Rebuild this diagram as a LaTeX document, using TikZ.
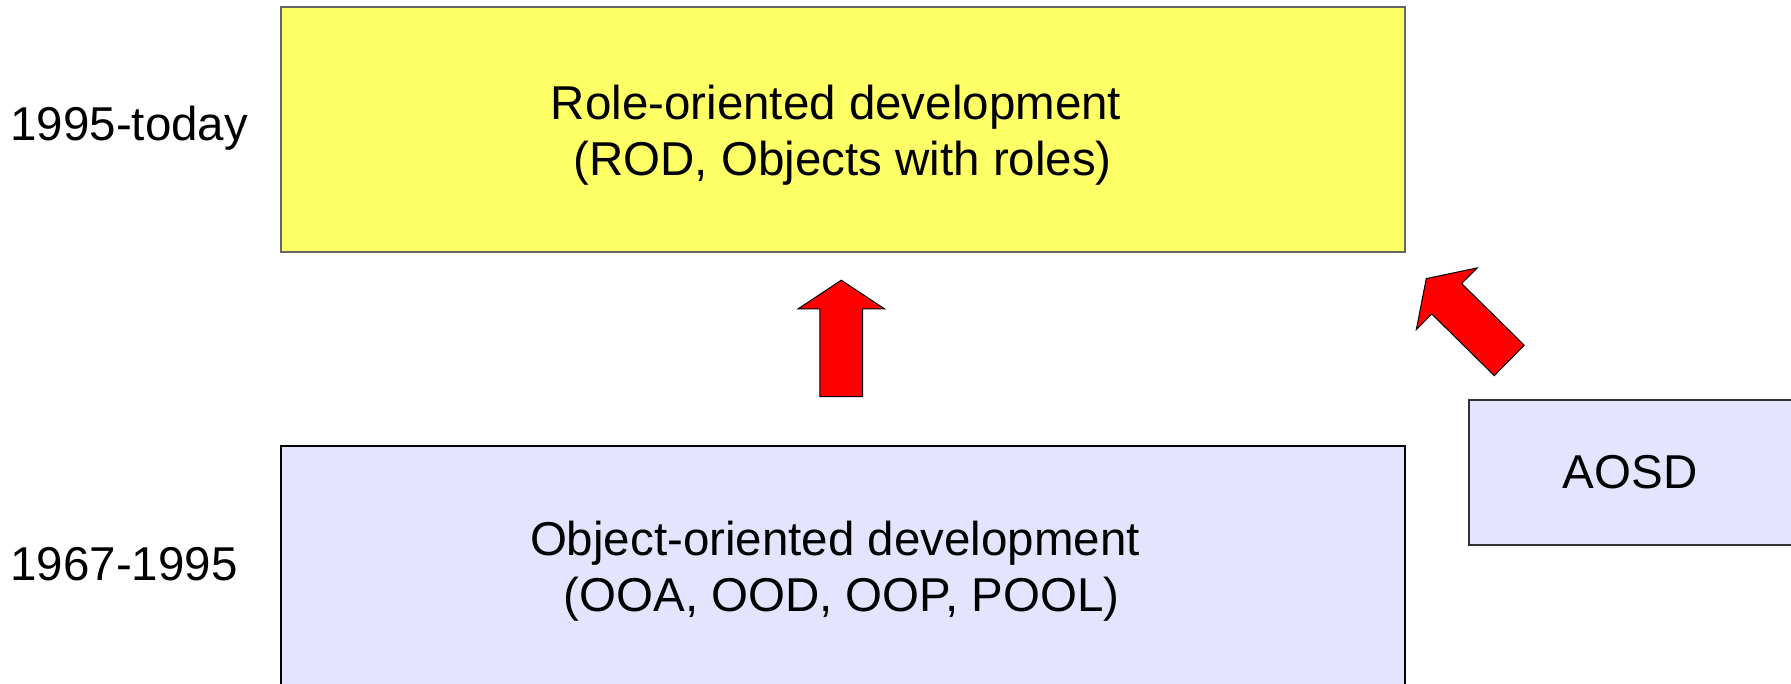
\documentclass[tikz,border=0pt]{standalone}
\usepackage{fontspec}
\setmainfont{Liberation Sans}
\begin{document}
\begin{tikzpicture}[x=0.5pt,y=-0.5pt,
  labelfont/.style={font=\fontsize{23.75pt}{28pt}\selectfont},
  yellowbox/.style={draw=black!60, line width=1pt, fill=rodyellow,
    minimum width=562pt, minimum height=122.5pt, anchor=north west, inner sep=0pt},
  lavbox/.style={draw=black, line width=1pt, fill=oolav, anchor=north west, inner sep=0pt},
  boxtext/.style={labelfont, align=center, inner sep=0pt},
  yearlabel/.style={labelfont, inner sep=0pt, anchor=base west},
  arrowbody/.style={fill=red, draw=black, line width=0.5pt, line join=miter},
  blockarrow/.pic={
    \path[arrowbody] (0,-21.35) -- (87.8,-21.35) -- (87.8,-43.3) -- (116.5,0)
      -- (87.8,43.3) -- (87.8,21.35) -- (0,21.35) -- cycle;
  }]
\definecolor{rodyellow}{HTML}{FFFF66}
\definecolor{oolav}{HTML}{E4E4FF}
\path[use as bounding box, clip] (0,0) rectangle (1791,684);

% period labels
\node[yearlabel] (today) at (10,140.7) {1995-today};
\node[yearlabel] (early) at (10,580.7) {1967-1995};

% development eras
\node[yellowbox] (rod) at (280,6) {};
\node[boxtext] (rodtext) at (836,135.6)
  {Role-oriented development\\\hspace*{0.278em}(ROD, Objects with roles)};

\node[lavbox, minimum width=562pt, minimum height=122.5pt] (ood) at (280,445) {};
\node[boxtext] (oodtext) at (835,571.6)
  {Object-oriented development\\\hspace*{0.278em}(OOA, OOD, OOP, POOL)};

\node[lavbox, draw=black!80, minimum width=163pt, minimum height=72.5pt] (aosd) at (1468,399.3) {};
\node[labelfont, inner sep=0pt, anchor=base] (aosdtext) at (1630,488) {AOSD};

% evolution arrows
\pic[rotate=90] at (841.3,396.7) {blockarrow};
\pic[rotate=135.4] at (1509.2,360.4) {blockarrow};
\end{tikzpicture}
\end{document}
